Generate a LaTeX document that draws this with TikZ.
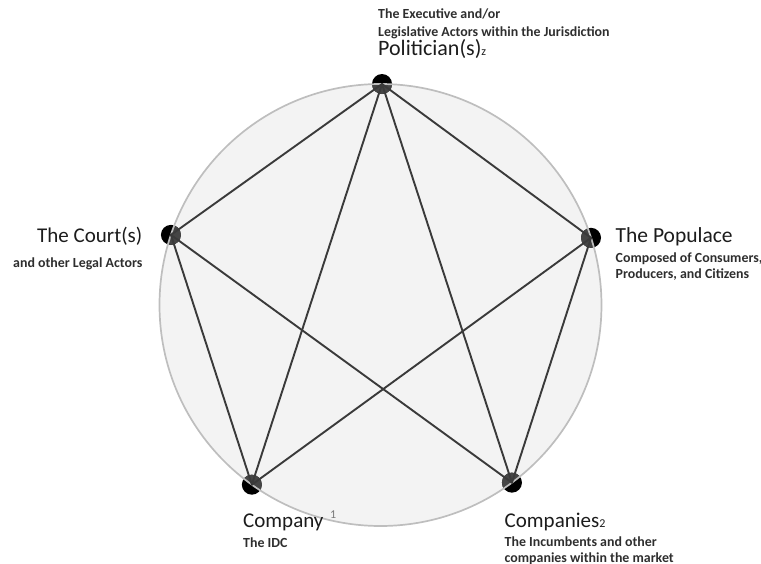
\documentclass[tikz,border=0pt]{standalone}
\usepackage{fontspec}
\setmainfont{Carlito}
\usetikzlibrary{positioning}
\definecolor{ink}{HTML}{1C1C1C}
\definecolor{soft}{HTML}{2E2E2E}
\definecolor{edge}{HTML}{3A3A3A}
\definecolor{rim}{HTML}{BEBEBE}
\definecolor{disc}{HTML}{F3F3F3}
\definecolor{dotin}{HTML}{454545}
\definecolor{mark}{HTML}{7A7A7A}
\tikzset{
  actor/.style={circle, fill=black, inner sep=0pt, minimum size=20pt},
  link/.style={draw=edge, line width=1.9pt, line cap=round},
  ring/.style={draw=rim, line width=1.7pt},
  big/.style={text=ink, font=\fontsize{21}{24}\selectfont, inner sep=0pt},
  note/.style={text=soft, font=\fontsize{13.9}{16}\selectfont\bfseries, inner sep=0pt},
}
\newcommand\lowtag[1]{{\fontsize{12}{12}\selectfont #1}}

\begin{document}
\begin{tikzpicture}[x=1pt,y=1pt]
  \useasboundingbox (-380.5,-258) rectangle (380.5,305);
  \def\r{221}
  \coordinate (O) at (0,0);

  \fill[disc] (O) circle (\r);

  % the five actors sit on the ring
  \node[actor] (pol)   at (89.6:\r)  {};
  \node[actor] (court) at (161.5:\r) {};
  \node[actor] (pop)   at (17.7:\r)  {};
  \node[actor] (comp)  at (234.4:\r) {};
  \node[actor] (comps) at (306.5:\r) {};

  % inner half of each dot is shaded by the disc
  \begin{scope}
    \clip (O) circle (\r);
    \foreach \n in {pol,court,pop,comp,comps}
      \fill[dotin] (\n.center) circle (10);
  \end{scope}
  \draw[ring] (O) circle (\r);

  \foreach \a/\b in {pol/court, pol/pop, pol/comp, pol/comps,
                     court/comp, court/comps, pop/comp, pop/comps}
    \draw[link] (\a.center) -- (\b.center);

  % labels (multi-line notes hang from their last line)
  \node[big, font=\fontsize{22}{24}\selectfont, anchor=base west] (pol-name) at (-2.5,249) {Politician(s)\lowtag{z}};
  \node[note, font=\fontsize{13.9}{17}\selectfont\bfseries, anchor=base west, align=left] (pol-note) at (-2.5,269)
    {The Executive and/or\\Legislative Actors within the Jurisdiction};

  \node[big, anchor=base east] (court-name) at (-238,63) {The Court(s)};
  \node[note, anchor=base east] (court-note) at (-238,38) {and other Legal Actors};

  \node[big, font=\fontsize{21.5}{24}\selectfont, anchor=base west] (pop-name) at (235,63) {The Populace};
  \node[note, font=\fontsize{13.9}{15.5}\selectfont\bfseries, anchor=base west, align=left] (pop-note) at (235,27)
    {Composed of Consumers,\\Producers, and Citizens};

  \node[big, anchor=base west] (comp-name) at (-137.5,-222) {Company};
  \node[note, font=\fontsize{12}{12}\selectfont, text=mark, anchor=base west] (comp-mark) at (-50.5,-213) {1};
  \node[note, anchor=base west] (comp-note) at (-137.5,-242) {The IDC};

  \node[big, anchor=base west] (comps-name) at (124,-222) {Companies\lowtag{2}};
  \node[note, anchor=base west, align=left] (comps-note) at (124,-257)
    {The Incumbents and other\\companies within the market};
\end{tikzpicture}
\end{document}
